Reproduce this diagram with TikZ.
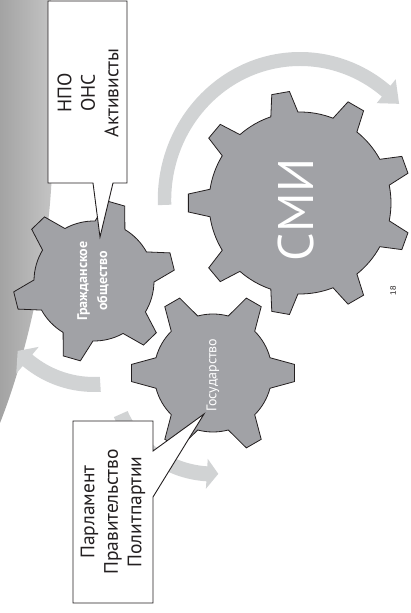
\documentclass[tikz,border=0pt]{standalone}
\usepackage{fontspec}
\setmainfont{PT Sans}
\newfontfamily\pagefont{Liberation Sans}
\definecolor{gearfill}{RGB}{161,162,166}
\definecolor{arcfill}{RGB}{209,211,212}
\definecolor{stripL}{RGB}{163,163,163}
\definecolor{stripR}{RGB}{196,196,196}
\definecolor{ink}{RGB}{35,31,32}
% gear: cx, cy, N, offset, rin, rout, base half-angle, tip half-angle
\newcommand{\mygear}[8]{%
  \filldraw[gearsty, shift={(#1,#2)}] ({#4-#7}:#5pt)
  \foreach \k [evaluate=\k as \a using #4+(\k-1)*360/#3] in {1,...,#3}{
    -- ({\a-#8}:#6pt) -- ({\a+#8}:#6pt) -- ({\a+#7}:#5pt)
    arc[start angle={\a+#7}, end angle={\a+360/#3-#7}, radius=#5pt]
  } -- cycle;}
% band arrow: cx, cy, r, half width, start angle, head base angle, tip angle, head half width
\newcommand{\bandarrow}[8]{%
  \fill[arcsty, shift={(#1,#2)}] ({#5}:{(#3+#4)*1pt})
    arc[start angle=#5, end angle=#6, radius={(#3+#4)*1pt}]
    -- ({#6}:{(#3+#8)*1pt}) -- ({#7}:{#3*1pt}) -- ({#6}:{(#3-#8)*1pt})
    -- ({#6}:{(#3-#4)*1pt})
    arc[start angle=#6, end angle=#5, radius={(#3-#4)*1pt}] -- cycle;}
\begin{document}
\begin{tikzpicture}[x=1pt,y=1pt,
  gearsty/.style={fill=gearfill, draw=ink, line width=0.8pt, line join=miter},
  arcsty/.style={fill=arcfill},
  callsty/.style={fill=white, draw=ink, line width=0.9pt},
  calltext/.style={rotate=90, align=center, text=ink, font=\fontsize{19.5}{23.5}\selectfont},
  geartext/.style={rotate=90, align=center, text=white}]
\useasboundingbox (0,0) rectangle (411,613);
% background strip
\shade[left color=stripL, right color=stripR] (0,613) -- (51,613) -- (52,443) .. controls (49,353) and (25,253) .. (0,190) -- cycle;
% arrows
\bandarrow{94}{332}{103.5}{7.5}{-86.5}{-130}{-137.5}{17.5}
\bandarrow{213}{240}{101}{7.5}{204}{266.5}{273}{15}
\begin{scope}[shift={(300,413)}, xscale=0.961]
\bandarrow{0}{0}{141}{7}{182}{50.5}{43}{15.5}
\end{scope}
% gears
\mygear{94}{332}{6}{14}{60}{81}{15}{6.3}
\mygear{213}{240}{6}{0}{59}{82}{15}{6}
\mygear{300}{410}{9}{20}{91}{112}{8.7}{4.6}
% callouts
\draw[callsty] (48,612) -- (127,612) -- (127,430) -- (113,430) -- (100,376) -- (93,430) -- (48,430) -- cycle;
\draw[callsty] (73,192) -- (153,192) -- (153,162) -- (204,199) -- (153,116) -- (153,10) -- (73,10) -- cycle;
% texts
\node[calltext] (ngo) at (88,520) {НПО\\ОНС\\Активисты};
\node[calltext] (gov) at (113,101) {Парламент\\Правительство\\Политпартии};
\node[geartext, font=\bfseries\fontsize{14}{20}\selectfont] (civ) at (93,332) {Гражданское\\общество};
\node[geartext, font=\fontsize{14}{17}\selectfont] (state) at (213,238) {Государство};
\node[geartext, font=\fontsize{50}{60}\selectfont] (smi) at (296,403) {СМИ};
\node[rotate=90, text=ink, font=\pagefont\fontsize{8}{10}\selectfont] (pg) at (393,322) {18};
\end{tikzpicture}
\end{document}
